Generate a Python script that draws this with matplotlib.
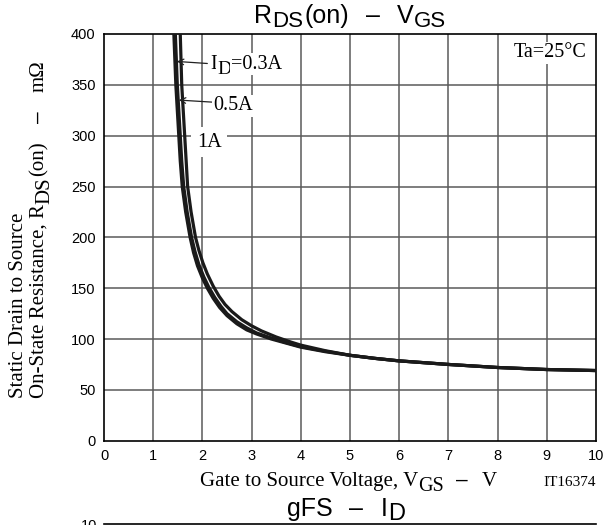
import numpy as np
import matplotlib
matplotlib.use('Agg')
import matplotlib.pyplot as plt
from matplotlib.lines import Line2D
from matplotlib.transforms import offset_copy

SANS = 'Liberation Sans'
SERIF = 'Liberation Serif'

# curves (VGS in V, RDS(on) in mOhm)
vgs_03 = [1.42, 1.44, 1.46, 1.49, 1.52, 1.55, 1.59, 1.66, 1.75, 1.82, 1.90, 2.00, 2.10, 2.22,
          2.35, 2.50, 2.70, 2.90, 3.10, 3.40, 3.70, 4.00, 4.50, 5.00, 5.50, 6.00, 7.00, 8.00, 9.00, 10.0]
rds_03 = [400, 375, 350, 325, 300, 275, 250, 225, 200, 185, 172, 160, 150, 140,
          131, 123, 115, 109, 105, 100, 96, 92, 87.5, 84, 81, 78.5, 75, 72, 70, 69]
vgs_05 = [1.45, 1.47, 1.49, 1.52, 1.55, 1.58, 1.62, 1.69, 1.78, 1.85, 1.93, 2.03, 2.13, 2.25,
          2.38, 2.50, 2.70, 2.90, 3.10, 3.40, 3.70, 4.00, 4.50, 5.00, 5.50, 6.00, 7.00, 8.00, 9.00, 10.0]
rds_05 = [400, 375, 350, 325, 300, 275, 250, 225, 200, 186, 173, 161, 151, 141,
          132, 125, 117, 111, 106, 101, 96.5, 92.5, 88, 84, 81, 78.5, 75, 72, 70, 69]
vgs_1 = [1.55, 1.565, 1.58, 1.61, 1.64, 1.67, 1.70, 1.77, 1.86, 1.93, 2.01, 2.10, 2.22, 2.34,
         2.46, 2.60, 2.80, 3.00, 3.20, 3.50, 3.80, 4.00, 4.50, 5.00, 5.50, 6.00, 7.00, 8.00, 9.00, 10.0]
rds_1 = [400, 375, 350, 325, 300, 275, 250, 225, 200, 187, 175, 164, 152, 142,
         134, 127, 119, 113, 108, 102, 97, 94, 88.5, 84, 81, 78.5, 75, 72, 70, 69]

fig = plt.figure(figsize=(6.09, 5.25), dpi=100)
ax = fig.add_axes([104/609, 1-440.7/525, (596-104)/609, (440.7-34)/525])
renderer = fig.canvas.get_renderer()


def rich(x, y, pieces, trans, rot=0, ha='center', bbox=None, zorder=5):
    # pieces: (text, family, size, baseline shift px, gap after px)
    widths = []
    for s, fam, sz, dy, gap in pieces:
        t = fig.text(0, 0, s, family=fam, fontsize=sz, rotation=rot)
        bb = t.get_window_extent(renderer)
        widths.append((bb.height if rot else bb.width) + gap)
        t.remove()
    total = sum(widths)
    pos = {'center': -total / 2, 'left': 0.0, 'right': -total}[ha]
    for (s, fam, sz, dy, gap), w in zip(pieces, widths):
        ox, oy = (-dy, pos) if rot else (pos, dy)
        tr = offset_copy(trans, fig=fig, x=ox, y=oy, units='dots')
        kw = dict(family=fam, fontsize=sz, rotation=rot, rotation_mode='anchor',
                  ha='left', va='baseline', transform=tr, zorder=zorder)
        if bbox is not None:
            kw['bbox'] = bbox
        if trans is fig.transFigure:
            fig.text(x, y, s, **kw)
        else:
            ax.text(x, y, s, **kw)
        pos += w


grid_c = '#5a5a5a'
for v in range(1, 10):
    ax.axvline(v, color=grid_c, lw=1.1, zorder=1)
for r in range(50, 400, 50):
    ax.axhline(r, color=grid_c, lw=1.1, zorder=1)

for v, r in [(vgs_03, rds_03), (vgs_05, rds_05), (vgs_1, rds_1)]:
    ax.plot(v, r, color='#1a1a1a', lw=2.3, zorder=3, solid_joinstyle='round')

ax.set_xlim(0, 10)
ax.set_ylim(0, 400)
ax.set_xticks(range(0, 11))
ax.set_yticks(range(0, 401, 50))
ax.tick_params(length=0, pad=6, labelsize=10.5)
for lab in ax.get_xticklabels() + ax.get_yticklabels():
    lab.set_family(SANS)
for s in ax.spines.values():
    s.set_linewidth(1.2)

white = dict(fc='white', ec='none', pad=1)

# curve labels
rich(2.16, 366, [('I', SERIF, 14.5, 0, 0), ('D', SERIF, 14, -5, 0), ('=0.3A', SERIF, 14.5, 0, 0)],
     ax.transData, ha='left', bbox=white)
ax.annotate('', xy=(1.48, 373), xytext=(2.1, 371), zorder=4,
            arrowprops=dict(arrowstyle='->', lw=0.9, color='#222222', shrinkA=0, shrinkB=0))
ax.text(2.22, 325, '0.5A', family=SERIF, fontsize=14.5, va='baseline', ha='left', zorder=5, bbox=white)
ax.annotate('', xy=(1.52, 335), xytext=(2.2, 333), zorder=4,
            arrowprops=dict(arrowstyle='->', lw=0.9, color='#222222', shrinkA=0, shrinkB=0))
ax.text(1.89, 289, '1A', family=SERIF, fontsize=14.5, va='baseline', ha='left', zorder=5,
        bbox=dict(fc='white', ec='none', pad=4))
ax.text(9.80, 377, 'Ta=25°C', family=SERIF, fontsize=14.5, va='baseline', ha='right', zorder=5, bbox=white)

# title
rich(350/609, 1-23/525, [('R', SANS, 18, 0, 0), ('DS', SANS, 16, -4, 1), ('(on)', SANS, 18, 0, 17),
                         ('–', SANS, 18, 0, 17), ('V', SANS, 18, 0, 0), ('GS', SANS, 16, -4, 0)],
     fig.transFigure)

# x label
rich(348/609, 1-485.7/525, [('Gate to Source Voltage, V', SERIF, 15, 0, 0), ('GS', SERIF, 14.5, -5, 12),
                            ('–', SANS, 15, 0, 14), ('V', SERIF, 15, 0, 0)],
     fig.transFigure)
fig.text(596/609, 1-486/525, 'IT16374', family=SERIF, fontsize=11, ha='right', va='baseline')

# y label (two lines, rotated)
rich(23/609, 1-398/525, [('Static Drain to Source', SERIF, 15, 0, 0)],
     fig.transFigure, rot=90, ha='left')
rich(44/609, 1-398/525, [('On-State Resistance, R', SERIF, 15, 0, 0), ('DS', SERIF, 15, -5, 1),
                         ('(on)', SERIF, 15, 0, 19), ('–', SANS, 15, 0, 19), ('mΩ', SERIF, 15, 0, 0)],
     fig.transFigure, rot=90, ha='left')

# top of the next chart on the datasheet page
rich(346/609, 1-515.7/525, [('gFS', SANS, 18, 0, 17), ('–', SANS, 18, 0, 17),
                            ('I', SANS, 18, 0, 1), ('D', SANS, 17, -4, 0)],
     fig.transFigure)
fig.add_artist(Line2D([104/609, 596/609], [1-524/525, 1-524/525], color='black', lw=1.2))
fig.text(97/609, 1-519/525, '10', family=SANS, fontsize=10.5, ha='right', va='top')

fig.savefig('out.png', dpi=100)
